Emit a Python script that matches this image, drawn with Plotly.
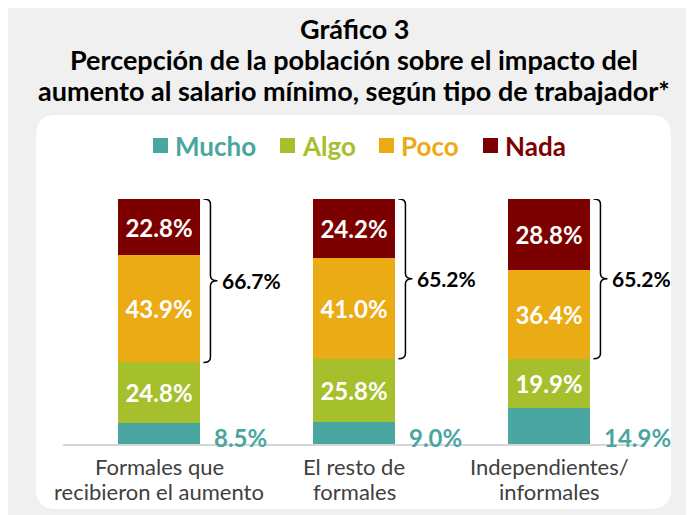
import plotly.graph_objects as go

# datos (porcentajes)
categorias = [["Formales que", "recibieron el aumento"], ["El resto de", "formales"],
              ["Independientes/", "informales"]]
mucho = [8.5, 9.0, 14.9]
algo = [24.8, 25.8, 19.9]
poco = [43.9, 41.0, 36.4]
nada = [22.8, 24.2, 28.8]
poco_nada = [66.7, 65.2, 65.2]

series = ["Mucho", "Algo", "Poco", "Nada"]
colores = ["#4aa6a0", "#a5c02c", "#ebab14", "#7d0000"]

# la pagina tiene 8px de margen
OFF = 8
W, H = 694 - OFF, 515 - OFF
FONT = "Lato"
BAR_W = 0.425


def px(x):
    return (x - OFF) / W


def py(y):
    return 1 - (y - OFF) / H


fig = go.Figure()

valores = [mucho, algo, poco, nada]
for nombre, vals, col in zip(series, valores, colores):
    if nombre == "Mucho":
        txt = ["" for v in vals]
    else:
        txt = ["%.1f%%" % v for v in vals]
    fig.add_trace(go.Bar(
        x=list(range(len(categorias))), y=vals, name=nombre,
        marker=dict(color=col, line=dict(width=0)),
        width=BAR_W, text=txt, textposition="inside",
        insidetextanchor="middle", textangle=0,
        textfont=dict(family=FONT, size=24, color="white", weight="bold"),
        hoverinfo="skip", showlegend=False,
    ))

shapes = []
annots = []

# panel blanco redondeado
x0, x1, y0, y1, r = 36, 671, 115, 509, 20
path = ("M %f,%f L %f,%f Q %f,%f %f,%f L %f,%f Q %f,%f %f,%f L %f,%f Q %f,%f %f,%f L %f,%f Q %f,%f %f,%f Z" % (
    px(x0 + r), py(y0), px(x1 - r), py(y0),
    px(x1), py(y0), px(x1), py(y0 + r),
    px(x1), py(y1 - r),
    px(x1), py(y1), px(x1 - r), py(y1),
    px(x0 + r), py(y1),
    px(x0), py(y1), px(x0), py(y1 - r),
    px(x0), py(y0 + r),
    px(x0), py(y0), px(x0 + r), py(y0)))
shapes.append(dict(type="path", xref="paper", yref="paper", path=path,
                   fillcolor="white", line=dict(width=0), layer="below"))

# titulo
titulo = ["Gráfico 3", "Percepción de la población sobre el impacto del",
          "aumento al salario mínimo, según tipo de trabajador*"]
for k, t in enumerate(titulo):
    annots.append(dict(text=t, xref="paper", yref="paper", x=px(354), y=py(29 + 31 * k),
                       xanchor="center", yanchor="middle", showarrow=False,
                       font=dict(family=FONT, size=27, color="black", weight="bold")))

# leyenda manual
ley_x = [153, 280, 379, 483]
for nombre, col, lx in zip(series, colores, ley_x):
    shapes.append(dict(type="rect", xref="paper", yref="paper", x0=px(lx), x1=px(lx + 15),
                       y0=py(153), y1=py(138), fillcolor=col, line=dict(width=0)))
    annots.append(dict(text=nombre, xref="paper", yref="paper", x=px(lx + 20), y=py(146),
                       xanchor="left", yanchor="middle", showarrow=False,
                       font=dict(family=FONT, size=26, color=col, weight="bold")))

# llaves y etiquetas
ux = 1 / 195.0
uy = 100 / 245.0
for i in range(len(categorias)):
    top = mucho[i] + algo[i] + poco[i] + nada[i]
    bot = mucho[i] + algo[i]
    mid = (top + bot) / 2
    xa = i + BAR_W / 2 + 3 * ux
    xv = xa + 7 * ux
    xt = xa + 14 * ux
    rr = 5 * uy
    p = ("M %f,%f Q %f,%f %f,%f L %f,%f Q %f,%f %f,%f Q %f,%f %f,%f L %f,%f Q %f,%f %f,%f" % (
        xa, top, xv, top, xv, top - rr, xv, mid + rr, xv, mid, xt, mid,
        xv, mid, xv, mid - rr, xv, bot + rr, xv, bot, xa, bot))
    shapes.append(dict(type="path", xref="x", yref="y", path=p, line=dict(color="black", width=1.5)))
    annots.append(dict(text="%.1f%%" % poco_nada[i], x=xt + 3 * ux, y=mid, xref="x", yref="y",
                       xanchor="left", yanchor="middle", showarrow=False,
                       font=dict(family=FONT, size=21, color="black", weight="bold")))
    # etiqueta de Mucho fuera de la barra
    annots.append(dict(text="%.1f%%" % mucho[i], x=i + BAR_W / 2 + 12 * ux, y=2.8, xref="x", yref="y",
                       xanchor="left", yanchor="middle", showarrow=False,
                       font=dict(family=FONT, size=24, color=colores[0], weight="bold")))
    # categoria, una linea por anotacion
    for k, linea in enumerate(categorias[i]):
        annots.append(dict(text=linea, x=i, y=py(466 + 25 * k), xref="x", yref="paper",
                           xanchor="center", yanchor="middle", showarrow=False,
                           font=dict(family=FONT, size=22, color="#404040")))

fig.update_layout(
    width=W, height=H, margin=dict(l=0, r=0, t=0, b=0),
    paper_bgcolor="#f0f0f0", plot_bgcolor="rgba(0,0,0,0)",
    barmode="stack", bargap=0,
    shapes=shapes, annotations=annots,
    xaxis=dict(domain=[px(63), px(645)], range=[-0.4923, 2.4923], showticklabels=False,
               showgrid=False, zeroline=False, showline=True, linecolor="#d6d6d6", linewidth=2,
               fixedrange=True),
    yaxis=dict(domain=[py(444), py(199)], range=[0, 100], visible=False, fixedrange=True),
)

fig.write_html("out.html")
